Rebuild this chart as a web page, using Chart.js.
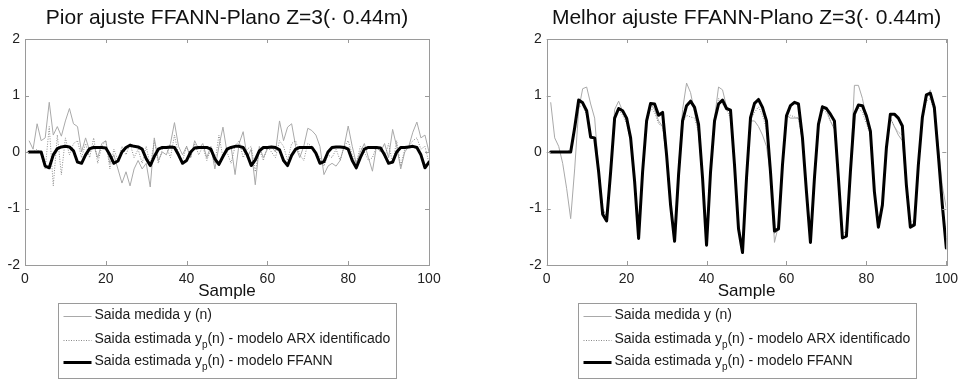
<!DOCTYPE html>
<html>
<head>
<meta charset="utf-8">
<script src="https://cdn.jsdelivr.net/npm/chart.js@4.4.1/dist/chart.umd.min.js"></script>
<style>
html,body{margin:0;padding:0;background:#fff;width:964px;height:379px;overflow:hidden}
.c{position:absolute;top:0;width:482px;height:379px}
canvas{display:block}
</style>
</head>
<body>
<div class="c" style="left:0"><canvas id="c1" width="482" height="379" style="width:482px;height:379px"></canvas></div>
<div class="c" style="left:482px"><canvas id="c2" width="482" height="379" style="width:482px;height:379px"></canvas></div>
<script>
// ---------------- DATA ----------------
const samples = [1,2,3,4,5,6,7,8,9,10,11,12,13,14,15,16,17,18,19,20,21,22,23,24,25,26,27,28,29,30,31,32,33,34,35,36,37,38,39,40,41,42,43,44,45,46,47,48,49,50,51,52,53,54,55,56,57,58,59,60,61,62,63,64,65,66,67,68,69,70,71,72,73,74,75,76,77,78,79,80,81,82,83,84,85,86,87,88,89,90,91,92,93,94,95,96,97,98,99,100];
const xTicks = [0, 20, 40, 60, 80, 100];
const yTicks = [-2, -1, 0, 1, 2];
const titleLeft = 'Pior ajuste FFANN-Plano Z=3(\u00b7 0.44m)';
const titleRight = 'Melhor ajuste FFANN-Plano Z=3(\u00b7 0.44m)';
const xAxisTitle = 'Sample';
// legend labels: [text, isSubscript]
const legendMedida = [['Saida medida y (n)', 0]];
const legendARX = [['Saida estimada y', 0], ['p', 1], ['(n) - modelo ARX identificado', 0]];
const legendFFANN = [['Saida estimada y', 0], ['p', 1], ['(n) - modelo FFANN', 0]];

// Left plot (worst fit)
const worstMedida = [0.2,0.05,0.5,0.2,0.25,0.88,0.3,0.45,0.28,0.55,0.77,0.5,0.45,0.0,0.25,0.02,0.12,-0.1,0.15,0.2,-0.2,-0.05,-0.3,-0.55,-0.35,-0.6,-0.3,-0.15,-0.3,-0.2,-0.62,0.25,-0.15,0.0,-0.05,0.15,0.52,0.1,-0.05,0.1,-0.1,0.2,0.05,0.15,-0.1,0.1,-0.3,0.1,0.44,0.0,0.1,-0.4,0.15,0.36,-0.1,0.05,-0.58,0.1,-0.1,0.05,0.1,0.0,0.55,0.2,0.44,0.5,0.1,-0.1,0.1,0.42,0.38,0.3,0.1,-0.4,-0.25,-0.2,-0.25,-0.15,0.1,0.46,0.1,-0.2,0.0,0.15,-0.1,-0.34,0.1,0.0,0.15,-0.1,0.4,0.1,-0.3,0.0,0.1,0.35,0.53,0.25,0.3,0.0];
const worstARX = [0,0,0.05,-0.05,-0.3,0.45,-0.6,0.3,-0.4,0.25,-0.05,0.15,0.2,-0.1,0.15,-0.1,0.25,-0.2,0.1,0.2,-0.3,0.05,-0.15,0.1,-0.05,0.15,-0.1,0.05,-0.2,0.1,-0.25,0.2,-0.2,0.05,0.1,-0.1,0.3,-0.05,-0.15,0.1,-0.1,0.15,-0.05,0.1,-0.15,0.05,-0.2,0.3,-0.1,0.0,-0.2,0.1,0.2,-0.1,0.05,0.1,-0.35,0.05,-0.15,0.1,0.0,-0.1,0.2,0.1,-0.15,0.15,0.2,-0.05,-0.15,0.15,0.1,0.0,-0.1,-0.25,-0.05,-0.1,0.05,-0.15,0.1,0.2,-0.05,-0.2,0.1,0.0,-0.15,-0.1,0.1,0.05,-0.1,0.15,-0.2,0.2,-0.25,0.05,0.1,0.2,0.25,0.05,0.1,-0.2];
const worstFFANN = [0,0,0,0,-0.25,-0.28,-0.05,0.06,0.09,0.1,0.09,0.02,-0.18,-0.2,-0.05,0.06,0.08,0.08,0.08,0.07,-0.05,-0.2,-0.16,0.0,0.08,0.12,0.1,0.09,0.05,-0.12,-0.24,-0.08,0.05,0.08,0.08,0.09,0.08,-0.05,-0.2,-0.15,0.0,0.07,0.08,0.08,0.08,0.05,-0.12,-0.22,-0.08,0.05,0.08,0.1,0.1,0.08,-0.05,-0.24,-0.14,0.02,0.08,0.08,0.09,0.08,0.04,-0.15,-0.24,-0.06,0.05,0.08,0.08,0.08,0.08,-0.02,-0.2,-0.17,0.0,0.08,0.09,0.09,0.08,0.05,-0.15,-0.28,-0.1,0.05,0.08,0.08,0.08,0.07,-0.05,-0.2,-0.18,0.0,0.08,0.08,0.09,0.1,0.08,-0.05,-0.28,-0.18];

// Right plot (best fit)
const bestMedida = [0.88,0.25,0.1,-0.2,-0.65,-1.18,-0.3,0.75,1.12,1.15,0.85,0.6,-0.3,-1.0,-1.15,-0.4,0.75,0.9,0.72,0.55,0.2,-0.6,-1.5,-0.3,0.6,0.85,0.75,0.55,0.45,-0.1,-1.0,-1.55,-0.3,0.75,1.22,1.05,0.7,0.35,-0.5,-1.62,-0.3,0.6,1.15,1.1,0.8,0.7,-0.3,-1.3,-1.75,-0.4,0.55,0.55,0.45,0.3,0.1,-0.4,-1.6,-1.3,-0.2,0.65,0.6,0.6,0.6,0.2,-0.7,-1.55,-0.4,0.5,0.82,0.75,0.55,0.4,-0.4,-1.5,-1.45,-0.3,1.18,1.18,0.95,0.6,0.3,-0.7,-1.3,-0.9,0.1,0.6,0.45,0.3,0.2,-0.6,-1.3,-1.25,-0.2,0.6,0.95,1.1,0.75,0.1,-0.6,-1.0];
const bestARX = [0,0,0,0,0,0.05,0.4,0.8,0.82,0.65,0.3,0.2,-0.4,-1.0,-1.15,-0.3,0.6,0.75,0.65,0.5,0.2,-0.55,-1.45,-0.3,0.5,0.78,0.7,0.5,0.45,-0.1,-0.95,-1.5,-0.35,0.5,0.65,0.62,0.6,0.35,-0.45,-1.55,-0.3,0.5,0.95,0.85,0.75,0.6,-0.25,-1.3,-1.7,-0.4,0.55,0.7,0.8,0.65,0.4,-0.35,-1.45,-1.3,-0.2,0.6,0.65,0.62,0.6,0.2,-0.7,-1.5,-0.4,0.45,0.75,0.7,0.55,0.4,-0.4,-1.45,-1.4,-0.3,0.7,0.78,0.7,0.5,0.3,-0.65,-1.25,-0.9,0.05,0.6,0.45,0.35,0.3,-0.55,-1.25,-1.2,-0.2,0.55,0.9,0.95,0.7,0.0,-0.9,-1.55];
const bestFFANN = [0,0,0,0,0,0,0.43,0.92,0.87,0.73,0.26,0.25,-0.35,-1.1,-1.22,-0.35,0.6,0.77,0.73,0.6,0.25,-0.52,-1.53,-0.35,0.55,0.86,0.85,0.65,0.7,-0.05,-0.94,-1.58,-0.4,0.55,0.82,0.9,0.79,0.49,-0.46,-1.65,-0.35,0.55,0.85,0.92,0.77,0.74,-0.23,-1.36,-1.78,-0.46,0.61,0.86,0.93,0.79,0.55,-0.35,-1.4,-1.36,-0.23,0.64,0.82,0.88,0.85,0.25,-0.7,-1.6,-0.46,0.49,0.8,0.77,0.67,0.55,-0.46,-1.52,-1.49,-0.35,0.67,0.83,0.82,0.64,0.37,-0.7,-1.33,-0.94,0.07,0.67,0.67,0.6,0.46,-0.58,-1.33,-1.29,-0.23,0.61,1.01,1.04,0.79,-0.05,-0.94,-1.7];

// ---------------- STYLE ----------------
const FONT = '"Liberation Sans", Arial, Helvetica, sans-serif';
const styles = {
  medida: {color: '#a9a9a9', width: 1, dash: []},
  arx:    {color: '#8a8a8a', width: 1, dash: [1, 1.5]},
  ffann:  {color: '#000000', width: 3, dash: []}
};

function pts(vals){ return samples.map((s, i) => ({x: s, y: vals[i]})); }

const framePlugin = {
  id: 'matlabFrame',
  afterDatasetsDraw(chart){
    const {ctx, chartArea: a, scales} = chart;
    ctx.save();
    ctx.strokeStyle = '#9a9a9a';
    ctx.lineWidth = 1;
    ctx.setLineDash([]);
    ctx.strokeRect(Math.round(a.left)+0.5, Math.round(a.top)+0.5, Math.round(a.right-a.left), Math.round(a.bottom-a.top));
    const tl = 4;
    ctx.beginPath();
    xTicks.forEach(v => {
      const x = Math.round(scales.x.getPixelForValue(v)) + 0.5;
      ctx.moveTo(x, a.bottom); ctx.lineTo(x, a.bottom - tl);
      ctx.moveTo(x, a.top); ctx.lineTo(x, a.top + tl);
    });
    yTicks.forEach(v => {
      const y = Math.round(scales.y.getPixelForValue(v)) + 0.5;
      ctx.moveTo(a.left, y); ctx.lineTo(a.left + tl, y);
      ctx.moveTo(a.right, y); ctx.lineTo(a.right - tl, y);
    });
    ctx.stroke();
    ctx.restore();
  },
  afterDraw(chart){
    const {ctx, chartArea: a} = chart;
    const rows = [
      {parts: legendMedida, st: styles.medida},
      {parts: legendARX, st: styles.arx},
      {parts: legendFFANN, st: styles.ffann}
    ];
    const mainFont = '14px ' + FONT, subFont = '10px ' + FONT;
    ctx.save();
    const widths = rows.map(r => r.parts.reduce((w, p) => { ctx.font = p[1] ? subFont : mainFont; return w + ctx.measureText(p[0]).width; }, 0));
    const boxW = Math.round(36 + Math.max(...widths) + 6);
    const boxH = 75;
    const cx = (a.left + a.right) / 2;
    const bx = Math.round(cx - boxW / 2) + 0.5;
    const by = Math.round(a.bottom + 38) + 0.5;
    ctx.fillStyle = '#fff';
    ctx.fillRect(bx, by, boxW, boxH);
    ctx.strokeStyle = '#9a9a9a';
    ctx.lineWidth = 1;
    ctx.strokeRect(bx, by, boxW, boxH);
    const rowY = [by + 12, by + 36, by + 58];
    rows.forEach((r, i) => {
      const y = rowY[i];
      ctx.beginPath();
      ctx.strokeStyle = r.st.color;
      ctx.lineWidth = r.st.width;
      ctx.setLineDash(r.st.dash);
      ctx.moveTo(bx + 5, Math.round(y) + 0.5);
      ctx.lineTo(bx + 33, Math.round(y) + 0.5);
      ctx.stroke();
      ctx.setLineDash([]);
      let x = bx + 36;
      ctx.fillStyle = '#1a1a1a';
      ctx.textBaseline = 'middle';
      ctx.textAlign = 'left';
      r.parts.forEach(p => {
        ctx.font = p[1] ? subFont : mainFont;
        ctx.fillText(p[0], x, p[1] ? y + 6 : y);
        x += ctx.measureText(p[0]).width;
      });
    });
    ctx.restore();
  }
};

function makeChart(id, title, medida, arx, ffann, yAxisWidth, padRight){
  return new Chart(document.getElementById(id), {
    type: 'line',
    data: {
      datasets: [
        {label: 'FFANN', data: pts(ffann), borderColor: styles.ffann.color, borderWidth: styles.ffann.width, borderDash: styles.ffann.dash, pointRadius: 0, tension: 0, order: 0, borderJoinStyle: 'round', borderCapStyle: 'round'},
        {label: 'ARX', data: pts(arx), borderColor: styles.arx.color, borderWidth: styles.arx.width, borderDash: styles.arx.dash, pointRadius: 0, tension: 0, order: 1},
        {label: 'Medida', data: pts(medida), borderColor: styles.medida.color, borderWidth: styles.medida.width, borderDash: styles.medida.dash, pointRadius: 0, tension: 0, order: 2}
      ]
    },
    options: {
      responsive: false,
      animation: false,
      devicePixelRatio: 1,
      layout: {padding: {left: 0, right: padRight, top: 0, bottom: 77}},
      plugins: {
        legend: {display: false},
        tooltip: {enabled: false},
        title: {display: true, text: title, fullSize: false, color: '#111', font: {family: FONT, size: 21, weight: 'normal', lineHeight: 1.2}, padding: {top: 6, bottom: 7.8}}
      },
      scales: {
        x: {
          type: 'linear', min: 0, max: 100,
          afterBuildTicks: s => { s.ticks = xTicks.map(v => ({value: v})); },
          afterFit: s => { s.height = 37; },
          grid: {display: false, drawTicks: false},
          border: {display: false},
          ticks: {color: '#222', font: {family: FONT, size: 14}, padding: 6, maxRotation: 0},
          title: {display: true, text: xAxisTitle, color: '#111', font: {family: FONT, size: 17}, padding: {top: 0, bottom: 0}}
        },
        y: {
          type: 'linear', min: -2, max: 2,
          afterBuildTicks: s => { s.ticks = yTicks.map(v => ({value: v})); },
          afterFit: s => { s.width = yAxisWidth; },
          grid: {display: false, drawTicks: false},
          border: {display: false},
          ticks: {color: '#222', font: {family: FONT, size: 14}, padding: 5}
        }
      }
    },
    plugins: [framePlugin]
  });
}

makeChart('c1', titleLeft, worstMedida, worstARX, worstFFANN, 25, 53);
makeChart('c2', titleRight, bestMedida, bestARX, bestFFANN, 64.7, 14);
</script>
</body>
</html>
